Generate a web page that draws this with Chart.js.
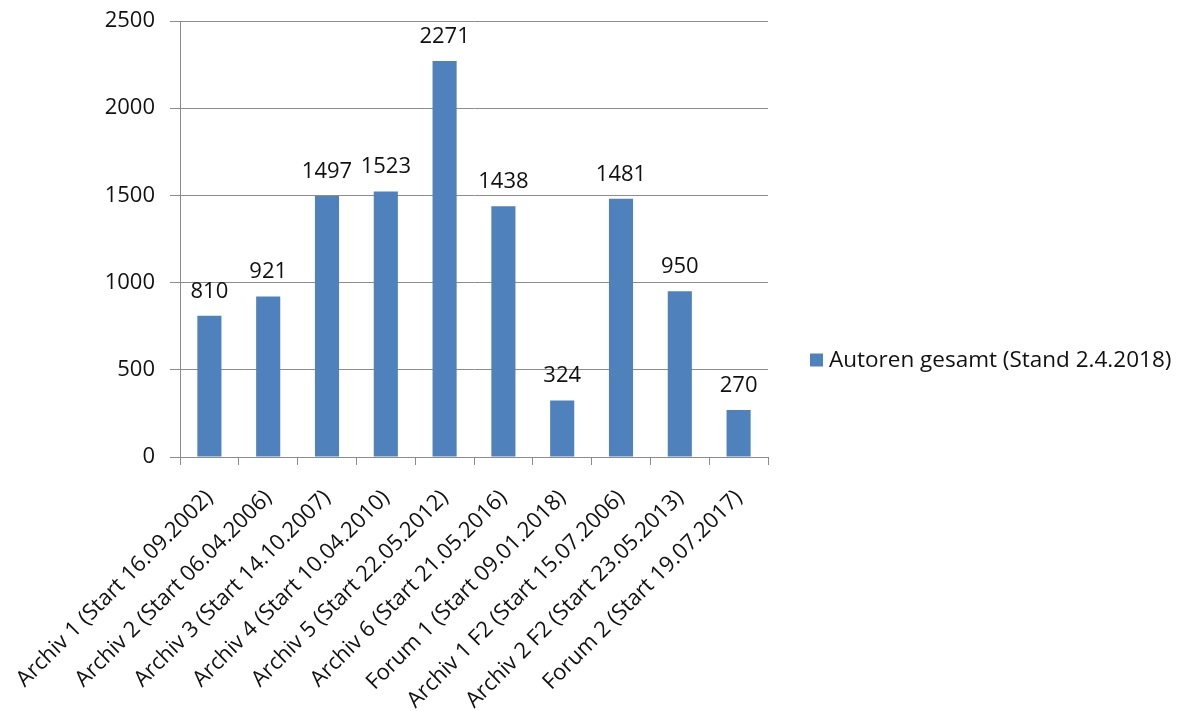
<!DOCTYPE html>
<html>
<head>
<meta charset="utf-8">
<script src="https://cdn.jsdelivr.net/npm/chart.js@4/dist/chart.umd.min.js"></script>
<style>
  html, body { margin: 0; padding: 0; background: #fff; }
  #wrap { width: 1186px; height: 711px; }
</style>
</head>
<body>
<div id="wrap"><canvas id="authors"></canvas></div>
<script>
var categories = [
  'Archiv 1 (Start 16.09.2002)',
  'Archiv 2 (Start 06.04.2006)',
  'Archiv 3 (Start 14.10.2007)',
  'Archiv 4 (Start 10.04.2010)',
  'Archiv 5 (Start 22.05.2012)',
  'Archiv 6 (Start 21.05.2016)',
  'Forum 1 (Start 09.01.2018)',
  'Archiv 1 F2 (Start 15.07.2006)',
  'Archiv 2 F2 (Start 23.05.2013)',
  'Forum 2 (Start 19.07.2017)'
];
var authors = [810, 921, 1497, 1523, 2271, 1438, 324, 1481, 950, 270];
var seriesName = 'Autoren gesamt (Stand 2.4.2018)';
var yTicks = [0, 500, 1000, 1500, 2000, 2500];

var fontFamily = '"Open Sans", Lato, sans-serif';
var textColor = '#111';
var barColor = '#4F81BD';
var lineColor = '#8c8c8c';

// value above every bar
var valueLabels = {
  id: 'valueLabels',
  afterDatasetsDraw(chart) {
    var ctx = chart.ctx;
    var meta = chart.getDatasetMeta(0);
    ctx.save();
    ctx.font = '22px ' + fontFamily;
    ctx.fillStyle = textColor;
    ctx.textAlign = 'center';
    ctx.textBaseline = 'alphabetic';
    meta.data.forEach(function (bar, i) {
      ctx.fillText(String(authors[i]), bar.x, bar.y - 18);
    });
    ctx.restore();
  }
};

// legend sits right of the plot, centred on the canvas height
var sideLegend = {
  id: 'sideLegend',
  afterDraw(chart) {
    var ctx = chart.ctx;
    var x = chart.chartArea.right + 42;
    var y = chart.height / 2 + 5;
    ctx.save();
    ctx.fillStyle = barColor;
    ctx.fillRect(x, y - 7, 13, 13);
    ctx.font = '22.5px ' + fontFamily;
    ctx.fillStyle = textColor;
    ctx.textBaseline = 'middle';
    ctx.fillText(seriesName, x + 19, y);
    ctx.restore();
  }
};

const createChart = () => {
  var ctx = document.getElementById('authors');
  new Chart(ctx, {
    type: 'bar',
    data: {
      labels: categories,
      datasets: [{
        label: seriesName,
        data: authors,
        backgroundColor: barColor,
        barPercentage: 0.41,
        categoryPercentage: 1
      }]
    },
    options: {
      responsive: true,
      maintainAspectRatio: false,
      animation: false,
      layout: { padding: { top: 21, right: 418, left: 0, bottom: 0 } },
      plugins: {
        legend: { display: false },
        tooltip: { enabled: false }
      },
      scales: {
        x: {
          offset: true,
          afterFit: function (axis) {
            axis.height = 254;
            axis.paddingLeft = 0;
            axis.paddingRight = 0;
          },
          grid: {
            offset: true,
            drawOnChartArea: false,
            drawTicks: true,
            tickLength: 8,
            color: lineColor
          },
          border: { color: lineColor },
          ticks: {
            color: textColor,
            font: { family: fontFamily, size: 22 },
            minRotation: 45,
            maxRotation: 45,
            autoSkip: false,
            padding: 20
          }
        },
        y: {
          min: 0,
          max: yTicks[yTicks.length - 1],
          afterFit: function (axis) {
            axis.width = 180;
            axis.paddingTop = 0;
            axis.paddingBottom = 0;
          },
          afterBuildTicks: function (axis) {
            axis.ticks = yTicks.map(function (v) { return { value: v }; });
          },
          grid: { color: lineColor, tickLength: 10 },
          border: { color: lineColor },
          ticks: {
            color: textColor,
            font: { family: fontFamily, size: 22 },
            padding: 15,
            callback: function (v) { return String(v); }
          }
        }
      }
    },
    plugins: [valueLabels, sideLegend]
  });
}

createChart();
</script>
</body>
</html>
